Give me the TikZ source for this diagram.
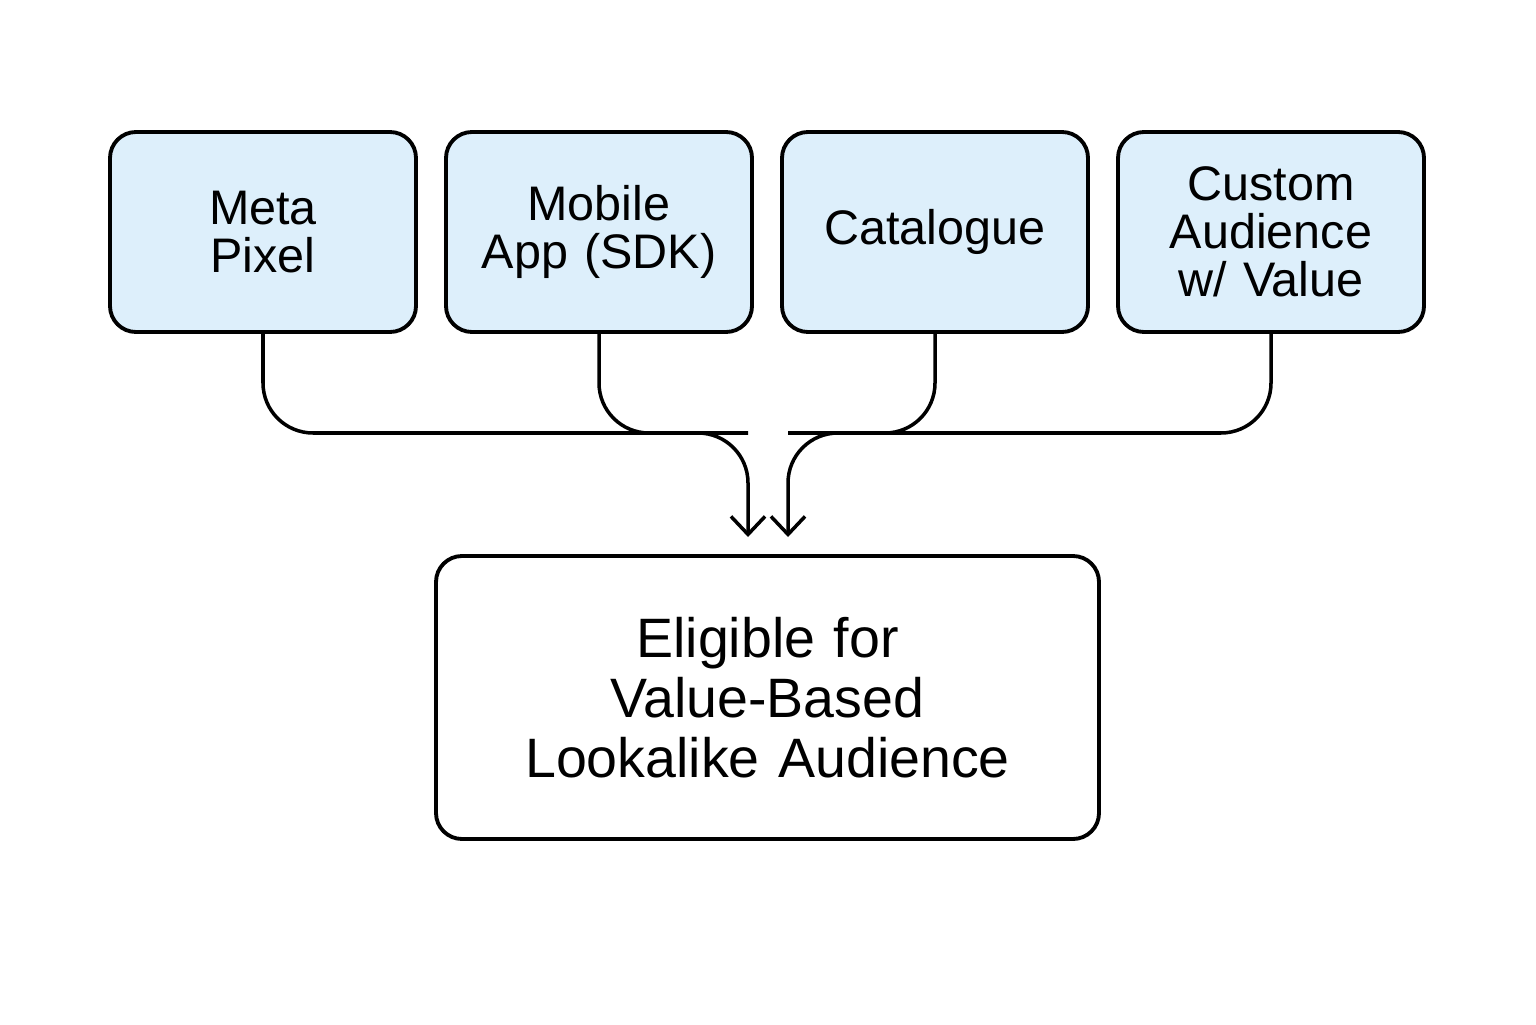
\documentclass[tikz,border=0pt]{standalone}
\usepackage{fontspec}
\setmainfont{Liberation Sans}
\usetikzlibrary{arrows.meta,positioning}
\definecolor{srcblue}{HTML}{DDEFFB}
\begin{document}
\begin{tikzpicture}[
    source/.style={draw,line width=1.1pt,rounded corners=0.26cm,fill=srcblue,minimum width=3.06cm,minimum height=2.0cm,text width=2.8cm,align=center,font=\fontsize{13.8}{13.6}\selectfont},
    target/.style={draw,line width=1.1pt,rounded corners=0.26cm,fill=white,minimum width=6.63cm,minimum height=2.83cm,text width=6.2cm,align=center,font=\fontsize{15.8}{17}\selectfont},
    link/.style={line width=1pt,rounded corners=0.5cm},
    flow/.style={link,-{Straight Barb[length=1.8mm,width=3.4mm,line width=1pt]}}
  ]
    % frame
    \useasboundingbox (0,0) rectangle (15.36,10.24);
    % sources
    \node[source] (pixel) at (2.63,7.92) {Meta\\Pixel};
    \node[source] (app) at (5.99,7.92) {Mobile\\App (SDK)};
    \node[source] (catalog) at (9.35,7.92) {Catalogue};
    \node[source] (custom) at (12.71,7.92) {Custom\\Audience\\w/ Value};
    % target
    \node[target] (lal) at (7.675,3.265) {Eligible for\\Value-Based\\Lookalike Audience};
    % merge points
    \coordinate (midL) at (7.48,5.91);
    \coordinate (midR) at (7.88,5.91);
    \coordinate (tipL) at (7.48,4.87);
    \coordinate (tipR) at (7.88,4.87);
    % connectors
    \draw[flow] (pixel.south) |- (midL) -- (tipL);
    \draw[link] (app.south) |- (midL);
    \draw[flow] (custom.south) |- (midR) -- (tipR);
    \draw[link] (catalog.south) |- (midR);
  \end{tikzpicture}
\end{document}
